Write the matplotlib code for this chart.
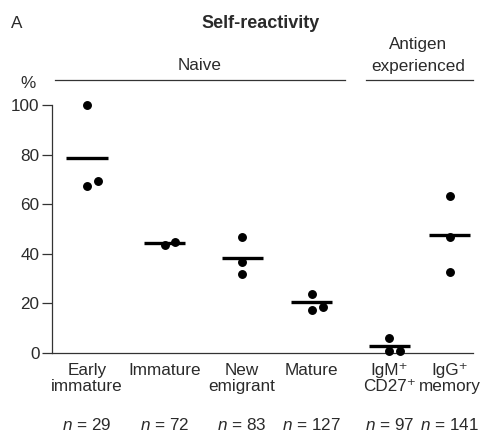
import matplotlib
matplotlib.use("Agg")
import matplotlib.pyplot as plt
from matplotlib.lines import Line2D

plt.rcParams['font.family'] = ['Liberation Sans', 'DejaVu Sans']
plt.rcParams['mathtext.fontset'] = 'custom'
plt.rcParams['mathtext.rm'] = 'Liberation Sans'
plt.rcParams['mathtext.it'] = 'Liberation Sans:italic'

# data
categories = ['Early\nimmature', 'Immature', 'New\nemigrant', 'Mature',
              'IgM\u207a\nCD27\u207a', 'IgG\u207a\nmemory']
n_cells = [29, 72, 83, 127, 97, 141]
donors = [
    [100, 67.2, 69.2],
    [43.5, 44.6],
    [46.7, 36.7, 31.7],
    [23.8, 17.3, 18.4],
    [5.9, 0.9, 0.9],
    [63.4, 46.8, 32.7],
]
means = [78.5, 44.3, 38.4, 20.4, 2.8, 47.7]
yticks = [0, 20, 40, 60, 80, 100]

# layout
xpos = [0, 1, 2, 2.9, 3.9, 4.68]
jitter = [[0, 0, 0.14], [0, 0.14], [0, 0, 0], [0, 0, 0.14], [0, 0, 0.14], [0, 0, 0]]
txt = '#2a2a2a'
fs = 12.3

fig = plt.figure(figsize=(4.96, 4.32), dpi=100)
ax = fig.add_axes([52/496, 1-353/432, (473-52)/496, (353-105)/432])

for i in range(len(categories)):
    xs = [xpos[i] + j for j in jitter[i]]
    ax.plot(xs, donors[i], 'o', color='black', markersize=5.4, clip_on=False, zorder=3)
    ax.hlines(means[i], xpos[i] - 0.265, xpos[i] + 0.265, color='black', lw=2.4, zorder=4)

ax.set_xlim(-0.452, 4.98)
ax.set_ylim(0, 100)
ax.spines['top'].set_visible(False)
ax.spines['right'].set_visible(False)
for s in ['left', 'bottom']:
    ax.spines[s].set_color('#333333')
    ax.spines[s].set_linewidth(0.9)
ax.set_yticks(yticks)
ax.set_yticklabels([str(v) for v in yticks], fontsize=fs, color=txt)
ax.tick_params(axis='y', length=7, width=0.9, color='#333333', pad=2)
ax.set_xticks(xpos)
ax.set_xticklabels(categories, fontsize=fs, color=txt, linespacing=1.1)
ax.tick_params(axis='x', length=0, pad=7)

for i in range(len(categories)):
    ax.text(xpos[i], -0.29, r'$n$ = %d' % n_cells[i], transform=ax.get_xaxis_transform(),
            ha='center', va='center', fontsize=fs, color=txt)

# header
fig.text(17/496, 1-24/432, 'A', fontsize=fs, ha='center', va='center', color=txt)
fig.text(261/496, 1-24/432, 'Self-reactivity', fontsize=13, fontweight='bold',
         ha='center', va='center', color=txt)
fig.text(200/496, 1-66/432, 'Naive', fontsize=fs, ha='center', va='center', color=txt)
fig.text(418/496, 1-45/432, 'Antigen', fontsize=fs, ha='center', va='center', color=txt)
fig.text(418/496, 1-66/432, 'experienced', fontsize=fs, ha='center', va='center', color=txt)
fig.text(28/496, 1-83/432, '%', fontsize=fs, ha='center', va='center', color=txt)
fig.add_artist(Line2D([55/496, 345/496], [1-80/432, 1-80/432], color='#333333', lw=0.9))
fig.add_artist(Line2D([366/496, 473/496], [1-80/432, 1-80/432], color='#333333', lw=0.9))

fig.savefig('out.png', dpi=100, facecolor='white')
